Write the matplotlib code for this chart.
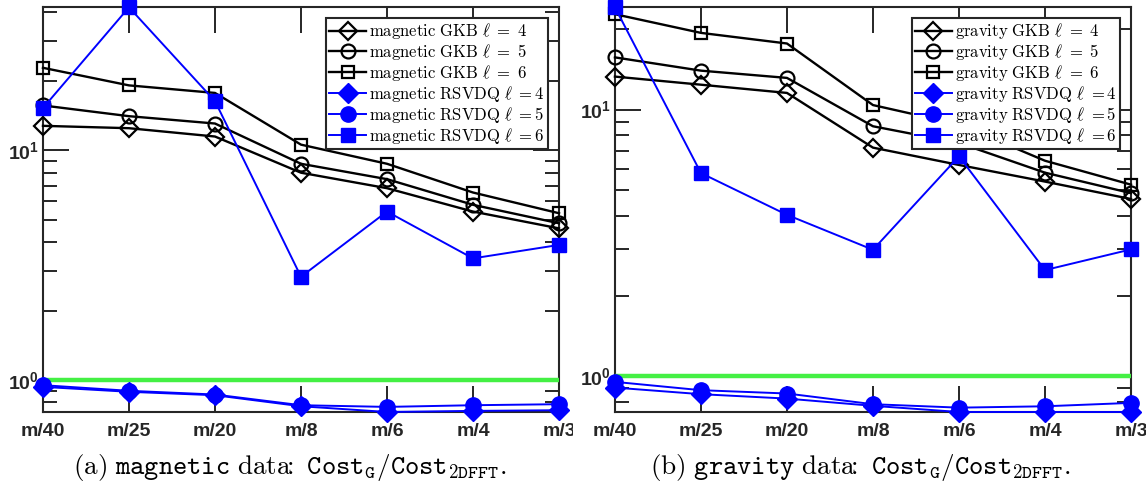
import numpy as np
import matplotlib
matplotlib.use('Agg')
import matplotlib.pyplot as plt
from matplotlib.font_manager import FontProperties
from matplotlib.ticker import FixedLocator, FixedFormatter, LogLocator, NullFormatter
from matplotlib.transforms import Bbox, TransformedBbox

# tick labels: bold Arial-like; legend/caption use Computer Modern via math_fontfamily
plt.rcParams['font.family'] = ['Liberation Sans', 'DejaVu Sans']
plt.rcParams['mathtext.fontset'] = 'custom'
plt.rcParams['mathtext.rm'] = 'Liberation Sans:bold'
plt.rcParams['mathtext.it'] = 'Liberation Sans:bold'
plt.rcParams['mathtext.bf'] = 'Liberation Sans:bold'

CATS = ['m/40', 'm/25', 'm/20', 'm/8', 'm/6', 'm/4', 'm/3']

# magnetic data: Cost_G / Cost_2DFFT
mag_gkb4 = [12.8, 12.5, 11.5, 8.0, 6.85, 5.42, 4.58]
mag_gkb5 = [15.7, 14.1, 13.1, 8.75, 7.5, 5.8, 4.82]
mag_gkb6 = [22.9, 19.2, 17.8, 10.6, 8.75, 6.56, 5.33]
mag_rsv4 = [0.935, 0.89, 0.86, 0.77, 0.727, 0.735, 0.74]
mag_rsv5 = [0.951, 0.899, 0.866, 0.778, 0.765, 0.778, 0.786]
mag_rsv6 = [15.3, 42.0, 16.4, 2.82, 5.42, 3.39, 3.88]

# gravity data
grav_gkb4 = [13.3, 12.4, 11.55, 7.2, 6.2, 5.37, 4.62]
grav_gkb5 = [15.7, 14.0, 13.15, 8.66, 7.5, 5.8, 4.86]
grav_gkb6 = [22.8, 19.4, 17.7, 10.4, 8.8, 6.43, 5.23]
grav_rsv4 = [0.906, 0.856, 0.824, 0.774, 0.734, 0.734, 0.734]
grav_rsv5 = [0.952, 0.886, 0.861, 0.785, 0.762, 0.771, 0.794]
grav_rsv6 = [24.2, 5.78, 4.03, 2.98, 6.68, 2.50, 2.99]

AXC = '#262626'
CM = dict(math_fontfamily='cm')


def panel(ax, name, gkb, rsv, caption, xc):
    x = np.arange(len(CATS))
    styles = [('D', 9), ('o', 10), ('s', 8)]
    for (mk, ms), vals, l in zip(styles, gkb, [4, 5, 6]):
        ax.plot(x, vals, color='k', lw=1.7, marker=mk, ms=ms, mfc='none', mec='k', mew=1.6,
                clip_on=False, zorder=3,
                label=r'$\mathrm{%s\ GKB}\ \ell\ {=}\ %d$' % (name, l))
    ax.axhline(1.0, color='#44f044', lw=3.2, zorder=3.5)
    bstyles = [('D', 10), ('o', 11), ('s', 10)]
    for (mk, ms), vals, l in zip(bstyles, rsv, [4, 5, 6]):
        ax.plot(x, vals, color='#0000ff', lw=1.4, marker=mk, ms=ms, mfc='#0000ff', mec='#0000ff',
                clip_on=False, zorder=4,
                label=r'$\mathrm{%s\ RSVDQ}\ \ell\ {=}%d$' % (name, l))
    allv = np.concatenate([np.ravel(gkb), np.ravel(rsv)])
    ax.set_yscale('log')
    ax.set_ylim(allv.min(), allv.max())
    ax.set_xlim(0, len(CATS) - 1)
    ax.xaxis.set_major_locator(FixedLocator(x))
    ax.xaxis.set_major_formatter(FixedFormatter(CATS))
    ax.yaxis.set_major_locator(FixedLocator([1, 10]))
    ax.yaxis.set_major_formatter(FixedFormatter([r'$10^{0}$', r'$10^{1}$']))
    ax.yaxis.set_minor_locator(LogLocator(base=10, subs=np.arange(2, 10)))
    ax.yaxis.set_minor_formatter(NullFormatter())
    ax.tick_params(which='both', direction='in', top=True, right=True, color=AXC,
                   labelcolor=AXC, width=1.4)
    ax.tick_params(which='major', length=18.5)
    ax.tick_params(which='minor', length=10)
    ax.tick_params(axis='x', pad=8, labelsize=14)
    ax.tick_params(axis='y', pad=3, labelsize=14)
    for lab in ax.get_xticklabels():
        lab.set_fontweight('bold')
    for s in ax.spines.values():
        s.set_color(AXC)
        s.set_linewidth(1.5)
    leg = ax.legend(loc='upper right', prop=FontProperties(size=12, math_fontfamily='cm'),
                    frameon=True, fancybox=False, edgecolor=AXC, framealpha=1,
                    borderpad=0.2, labelspacing=0.05, handlelength=2.2, handletextpad=0.2,
                    borderaxespad=0.65)
    leg.get_frame().set_linewidth(1.5)
    leg.set_zorder(10)
    ax.figure.text(xc, 0.039, caption, ha='center', va='center', fontsize=19.5, **CM)


fig = plt.figure(figsize=(11.46, 4.86), dpi=100)
ax1 = fig.add_axes([0.0375, 0.1523, 0.4503, 0.8327])
ax2 = fig.add_axes([0.5366, 0.1523, 0.4503, 0.8327])

panel(ax1, 'magnetic', [mag_gkb4, mag_gkb5, mag_gkb6], [mag_rsv4, mag_rsv5, mag_rsv6],
      r'$\mathrm{(a)}\ \mathtt{magnetic}\ \mathrm{data}\!\!:\ \mathtt{Cost}_{\mathtt{G}}/\mathtt{Cost}_{\mathtt{2DFFT}}.$',
      0.253)
panel(ax2, 'gravity', [grav_gkb4, grav_gkb5, grav_gkb6], [grav_rsv4, grav_rsv5, grav_rsv6],
      r'$\mathrm{(b)}\ \mathtt{gravity}\ \mathrm{data}\!\!:\ \mathtt{Cost}_{\mathtt{G}}/\mathtt{Cost}_{\mathtt{2DFFT}}.$',
      0.751)

# each subfigure is its own image in the source, so the left "m/3" is cut at the middle
left_half = TransformedBbox(Bbox([[0, 0], [0.5, 1]]), fig.transFigure)
for lab in ax1.get_xticklabels():
    lab.set_clip_box(left_half)
    lab.set_clip_on(True)

fig.savefig('out.png', dpi=100)
